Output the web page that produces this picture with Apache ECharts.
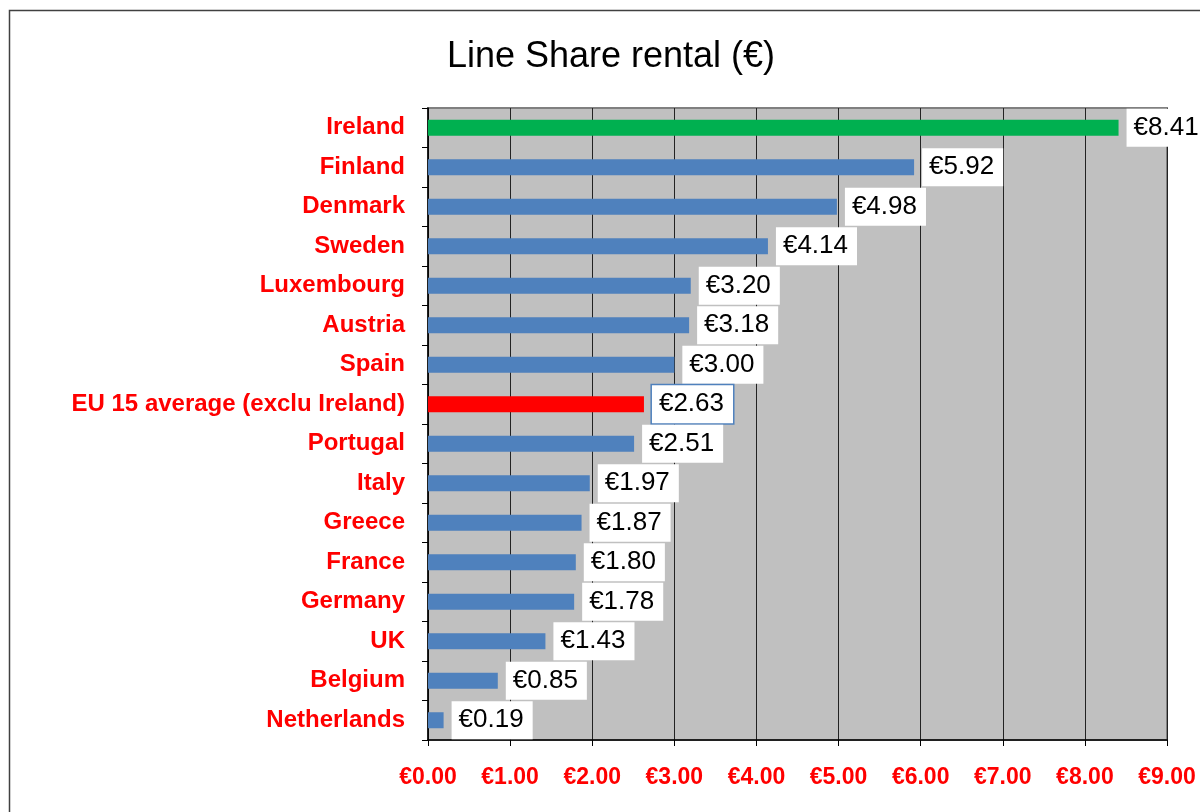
<!DOCTYPE html>
<html>
<head>
<meta charset="utf-8">
<script src="https://cdn.jsdelivr.net/npm/echarts@6/dist/echarts.min.js"></script>
<style>
    html, body {margin: 0; padding: 0; background: #fff;}
    #main {width: 1200px; height: 812px;}
</style>
</head>
<body>
<div id="main"></div>
<script>
// 国家（从上到下）
var countries = ['Ireland', 'Finland', 'Denmark', 'Sweden', 'Luxembourg', 'Austria', 'Spain',
    'EU 15 average (exclu Ireland)', 'Portugal', 'Italy', 'Greece', 'France', 'Germany', 'UK',
    'Belgium', 'Netherlands'];
var rentals = [8.41, 5.92, 4.98, 4.14, 3.20, 3.18, 3.00, 2.63, 2.51, 1.97, 1.87, 1.80, 1.78, 1.43, 0.85, 0.19];
var xTicks = [0, 1, 2, 3, 4, 5, 6, 7, 8, 9];

var myCharts = echarts.init(document.getElementById('main'));

var barData = [];
for (var i = 0; i < countries.length; i++) {
    var color = '#4F81BD';
    var label = {};
    if (countries[i] === 'Ireland') {
        color = '#00B050';
    } else if (countries[i].indexOf('EU 15') === 0) {
        color = '#FF0000';
        label = {borderColor: '#4F81BD', borderWidth: 1.5};//平均值的标签有蓝框
    }
    barData.push({value: rentals[i], itemStyle: {color: color}, label: label});
}

myCharts.setOption({
    animation: false,
    title: {
        text: 'Line Share rental (€)',
        left: 606,
        textAlign: 'center',
        top: 34,
        textStyle: {fontFamily: 'Liberation Sans', fontSize: 36, fontWeight: 'normal', color: '#000'}
    },
    graphic: [{
        type: 'rect',
        shape: {x: 9.5, y: 10.5, width: 1400, height: 1000},
        style: {fill: null, stroke: '#404040', lineWidth: 1.5},
        silent: true
    }],
    grid: {
        left: 428,
        right: 33,
        top: 108,
        bottom: 72,
        show: true,
        backgroundColor: '#C0C0C0',
        borderColor: '#808080',
        borderWidth: 2
    },
    xAxis: {
        type: 'value',
        min: xTicks[0],
        max: xTicks[xTicks.length - 1],
        interval: 1,
        axisLine: {show: true, lineStyle: {color: '#000', width: 1.5}},
        axisTick: {show: true, length: 6, lineStyle: {color: '#000'}},
        splitLine: {show: true, lineStyle: {color: '#222', width: 1}},
        axisLabel: {
            margin: 26,
            color: '#FF0000',
            fontFamily: 'Liberation Sans',
            fontWeight: 'bold',
            fontSize: 23,
            formatter: function (v) {
                return '€' + v.toFixed(2);
            }
        }
    },
    yAxis: {
        type: 'category',
        inverse: true,
        data: countries,
        axisLine: {show: true, lineStyle: {color: '#000', width: 1.5}},
        axisTick: {show: true, length: 6, lineStyle: {color: '#000'}},
        axisLabel: {
            margin: 23,
            color: '#FF0000',
            fontFamily: 'Liberation Sans',
            fontWeight: 'bold',
            fontSize: 24
        }
    },
    series: [{
        type: 'bar',
        barWidth: 16,
        data: barData,
        label: {
            show: true,
            position: 'right',
            distance: 8,
            color: '#000',
            fontFamily: 'Liberation Sans',
            fontSize: 26,
            backgroundColor: '#fff',
            padding: [6, 9, 6, 7],
            formatter: function (p) {
                return '€' + p.value.toFixed(2);
            }
        }
    }]
});
</script>
</body>
</html>
